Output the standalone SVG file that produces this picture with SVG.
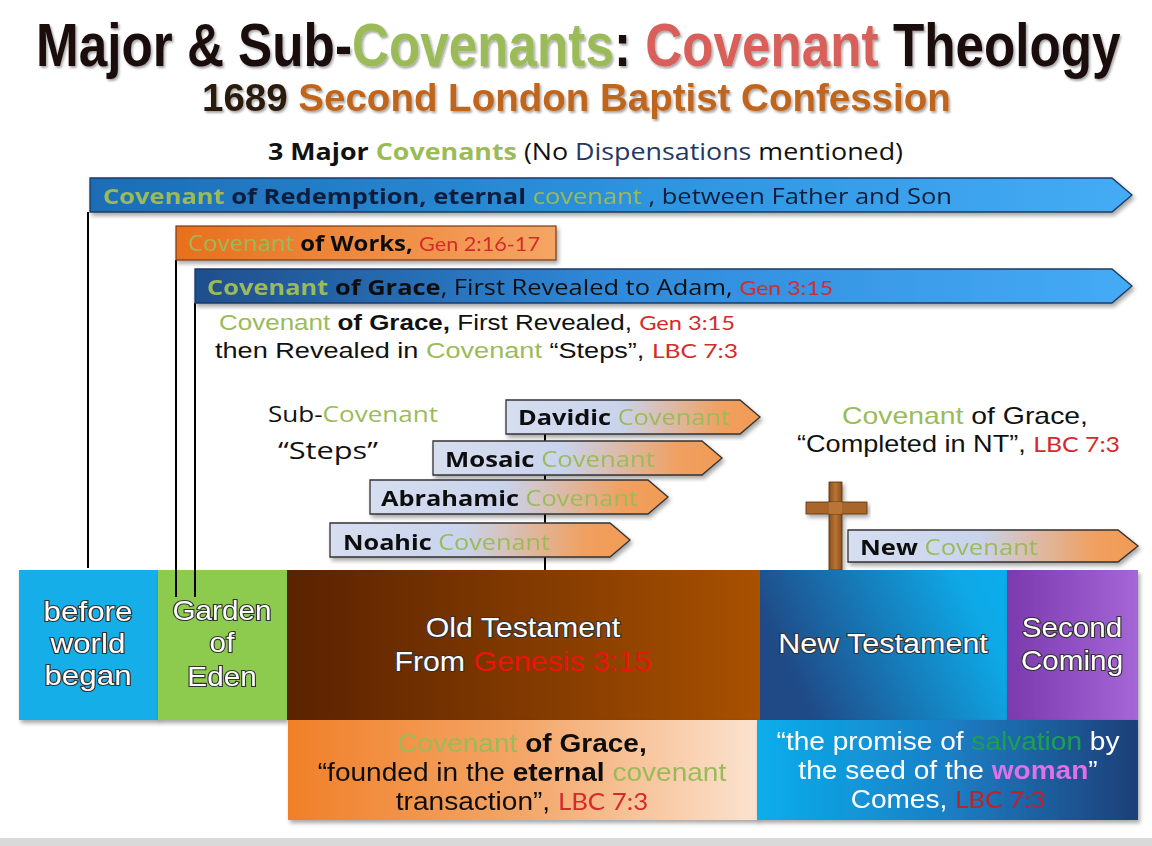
<svg xmlns="http://www.w3.org/2000/svg" width="1152" height="846" viewBox="0 0 1152 846">
<defs>
<style>
text{font-family:"Open Sans","Noto Sans",sans-serif;}
.t{font-family:"Liberation Sans",Arial,sans-serif;font-weight:700;}
.ls{font-family:"Liberation Sans",Arial,sans-serif;}
.g{fill:#9BBB59;}
.r{fill:#D42A2A;font-family:Lato,"Open Sans",sans-serif;}
.k{fill:#111;}
.b{font-weight:700;}
.lbl{font-family:"Liberation Sans",Arial,sans-serif;font-size:28px;fill:#fff;stroke:#333;stroke-width:2.2px;paint-order:stroke;text-anchor:middle;}
.sub{stroke:#333;stroke-width:1.3;fill:url(#subG);}
.line{stroke:#000;stroke-width:2;fill:none;}
</style>
<linearGradient id="redG" x1="0" x2="1" y1="0" y2="0"><stop offset="0" stop-color="#1C6DB5"/><stop offset="0.55" stop-color="#2E95E0"/><stop offset="1" stop-color="#45ABF5"/></linearGradient>
<linearGradient id="graceG" x1="0" x2="1" y1="0" y2="0"><stop offset="0" stop-color="#1F4E8C"/><stop offset="0.45" stop-color="#2F8ADB"/><stop offset="1" stop-color="#45ABF5"/></linearGradient>
<linearGradient id="worksG" x1="0" x2="1" y1="0" y2="0"><stop offset="0" stop-color="#E8701C"/><stop offset="1" stop-color="#F5A564"/></linearGradient>
<linearGradient id="subG" x1="0" x2="1" y1="0" y2="0"><stop offset="0" stop-color="#D6DEF0"/><stop offset="0.45" stop-color="#C9D3EC"/><stop offset="0.85" stop-color="#F0A060"/><stop offset="1" stop-color="#F29A55"/></linearGradient>
<linearGradient id="otG" x1="0" x2="1" y1="0" y2="0"><stop offset="0" stop-color="#5A2200"/><stop offset="1" stop-color="#A85100"/></linearGradient>
<linearGradient id="ntG" x1="0" x2="1" y1="0.3" y2="0"><stop offset="0" stop-color="#1F4A86"/><stop offset="0.8" stop-color="#0EA8E6"/><stop offset="1" stop-color="#0AAEEC"/></linearGradient>
<linearGradient id="scG" x1="0" x2="1" y1="0" y2="0"><stop offset="0" stop-color="#7A3AAE"/><stop offset="1" stop-color="#A566D6"/></linearGradient>
<linearGradient id="obG" x1="0" x2="1" y1="0" y2="0"><stop offset="0" stop-color="#F08028"/><stop offset="0.5" stop-color="#F4A668"/><stop offset="1" stop-color="#FBE3D0"/></linearGradient>
<linearGradient id="bbG" x1="0" x2="1" y1="0" y2="0"><stop offset="0" stop-color="#0AAEEC"/><stop offset="0.5" stop-color="#1A7FC6"/><stop offset="1" stop-color="#1F3F78"/></linearGradient>
<linearGradient id="crossG" x1="0" x2="1" y1="0" y2="0"><stop offset="0" stop-color="#8A4F1C"/><stop offset="0.5" stop-color="#B87534"/><stop offset="1" stop-color="#8A4F1C"/></linearGradient>
<filter id="sh" x="-5%" y="-10%" width="110%" height="130%"><feDropShadow dx="2" dy="3" stdDeviation="2" flood-color="#000" flood-opacity="0.35"/></filter>
<filter id="tsh" x="-2%" y="-10%" width="104%" height="130%"><feDropShadow dx="1.5" dy="2" stdDeviation="1" flood-color="#000" flood-opacity="0.35"/></filter>
</defs>
<rect width="1152" height="846" fill="#fff"/>
<rect x="0" y="838" width="1152" height="8" fill="#d9d9d9"/>

<g id="title" filter="url(#tsh)">
<text class="t" font-size="61" transform="translate(36,66) scale(0.84,1)"><tspan fill="#1a1010">Major &amp; Sub-</tspan><tspan fill="#9BBB59">Covenants</tspan><tspan fill="#1a1010">: </tspan><tspan fill="#D9605A">Covenant</tspan><tspan fill="#1a1010"> Theology</tspan></text>
<text class="t" font-size="38.5" x="202" y="111"><tspan fill="#2a1a10">1689 </tspan><tspan fill="#C0651F">Second London Baptist Confession</tspan></text>
</g>
<text x="268" y="160" font-size="23" textLength="635" lengthAdjust="spacingAndGlyphs"><tspan class="b k">3 Major </tspan><tspan class="b g">Covenants</tspan><tspan class="k"> (No </tspan><tspan fill="#1F3864">Dispensations</tspan><tspan class="k"> mentioned)</tspan></text>

<g id="connectors">
<line class="line" x1="88" y1="212" x2="88" y2="568"/>
<line class="line" x1="176" y1="260" x2="176" y2="597"/>
<line class="line" x1="195" y1="303" x2="195" y2="597"/>
<line class="line" x1="545" y1="434" x2="545" y2="570"/>
</g>

<g id="redemption" filter="url(#sh)">
<polygon points="90,178 1112,178 1132,195 1112,212 90,212" fill="url(#redG)" stroke="#1F3864" stroke-width="1.3"/>
<text x="103" y="204" font-size="22" textLength="849" lengthAdjust="spacingAndGlyphs"><tspan class="b g">Covenant</tspan><tspan class="b" fill="#0C1E3C"> of Redemption, eternal </tspan><tspan class="g">covenant</tspan><tspan fill="#0C1E3C"> , between Father and Son</tspan></text>
</g>

<g id="works" filter="url(#sh)">
<rect x="176" y="226" width="380" height="34" fill="url(#worksG)" stroke="#7a3a10" stroke-width="1.2"/>
<text x="188" y="251" font-size="21" textLength="352" lengthAdjust="spacingAndGlyphs"><tspan class="g">Covenant</tspan><tspan class="b k"> of Works, </tspan><tspan class="r" font-size="19">Gen 2:16-17</tspan></text>
</g>

<g id="grace" filter="url(#sh)">
<polygon points="195,269 1112,269 1132,286 1112,303 195,303" fill="url(#graceG)" stroke="#1F3864" stroke-width="1.3"/>
<text x="207" y="295" font-size="22" textLength="626" lengthAdjust="spacingAndGlyphs"><tspan class="b g">Covenant</tspan><tspan class="b k"> of Grace</tspan><tspan class="k">, First Revealed to Adam, </tspan><tspan class="r" font-size="20">Gen 3:15</tspan></text>
</g>

<g id="grace-note">
<text class="ls" x="219" y="330" font-size="22" textLength="516" lengthAdjust="spacingAndGlyphs"><tspan class="g">Covenant</tspan><tspan class="b k"> of Grace,</tspan><tspan class="k"> First Revealed, </tspan><tspan class="r" font-size="20">Gen 3:15</tspan></text>
<text class="ls" x="215" y="358" font-size="22" textLength="523" lengthAdjust="spacingAndGlyphs"><tspan class="k">then Revealed in </tspan><tspan class="g">Covenant</tspan><tspan class="k"> “Steps”, </tspan><tspan class="r" font-size="20">LBC 7:3</tspan></text>
</g>

<g id="steps-label">
<text x="268" y="422" font-size="22" textLength="170" lengthAdjust="spacingAndGlyphs"><tspan class="k">Sub-</tspan><tspan class="g">Covenant</tspan></text>
<text x="278" y="459" font-size="23" class="k" textLength="100" lengthAdjust="spacingAndGlyphs">“Steps”</text>
</g>

<g id="davidic" filter="url(#sh)">
<polygon class="sub" points="506,400 740,400 760,417 740,434 506,434"/>
<text x="518" y="425" font-size="22" textLength="212" lengthAdjust="spacingAndGlyphs"><tspan class="b k">Davidic </tspan><tspan class="g">Covenant</tspan></text>
</g>
<g id="mosaic" filter="url(#sh)">
<polygon class="sub" points="433,441 702,441 722,458 702,475 433,475"/>
<text x="445" y="467" font-size="22" textLength="210" lengthAdjust="spacingAndGlyphs"><tspan class="b k">Mosaic </tspan><tspan class="g">Covenant</tspan></text>
</g>
<g id="abrahamic" filter="url(#sh)">
<polygon class="sub" points="370,480 648,480 668,497 648,514 370,514"/>
<text x="381" y="506" font-size="22" textLength="257" lengthAdjust="spacingAndGlyphs"><tspan class="b k">Abrahamic </tspan><tspan class="g">Covenant</tspan></text>
</g>
<g id="noahic" filter="url(#sh)">
<polygon class="sub" points="330,523 610,523 630,540 610,557 330,557"/>
<text x="343" y="550" font-size="22" textLength="207" lengthAdjust="spacingAndGlyphs"><tspan class="b k">Noahic </tspan><tspan class="g">Covenant</tspan></text>
</g>

<g id="grace-completed">
<text class="ls" x="842" y="424" font-size="24" textLength="246" lengthAdjust="spacingAndGlyphs"><tspan class="g">Covenant</tspan><tspan class="k"> of Grace,</tspan></text>
<text class="ls" x="797" y="452" font-size="24" textLength="323" lengthAdjust="spacingAndGlyphs"><tspan class="k">“Completed in NT”, </tspan><tspan class="r" font-size="22">LBC 7:3</tspan></text>
</g>

<g id="cross" filter="url(#sh)">
<rect x="829" y="482" width="13" height="88" fill="url(#crossG)" stroke="#5a300c" stroke-width="0.8"/>
<rect x="806" y="502" width="61" height="12" fill="#A8662A" stroke="#5a300c" stroke-width="0.8"/>
<rect x="829" y="502" width="13" height="12" fill="#B87534"/>
</g>

<g id="new-covenant" filter="url(#sh)">
<polygon class="sub" points="848,530 1118,530 1138,546 1118,562 848,562"/>
<text x="860" y="555" font-size="22" textLength="178" lengthAdjust="spacingAndGlyphs"><tspan class="b k">New </tspan><tspan class="g">Covenant</tspan></text>
</g>

<g id="before-world" filter="url(#sh)">
<rect x="19" y="570" width="140" height="150" fill="#12AEE8"/>
<g transform="translate(88,0) scale(1.12,1)">
<text class="lbl" x="0" y="621">before</text>
<text class="lbl" x="0" y="653">world</text>
<text class="lbl" x="0" y="685">began</text>
</g>
</g>
<g id="garden" filter="url(#sh)">
<rect x="158" y="570" width="129" height="150" fill="#8DCB4F"/>
<g transform="translate(222,0) scale(1.06,1)">
<text class="lbl" x="0" y="620">Garden</text>
<text class="lbl" x="0" y="652">of</text>
<text class="lbl" x="0" y="686">Eden</text>
</g>
</g>
<line class="line" x1="176" y1="570" x2="176" y2="597"/>
<line class="line" x1="195" y1="570" x2="195" y2="597"/>

<g id="old-testament">
<rect x="287" y="570" width="474" height="150" fill="url(#otG)"/>
<g transform="translate(523,0) scale(1.08,1)">
<text class="lbl" x="0" y="637">Old Testament</text>
<text class="lbl" x="0" y="671">From <tspan fill="#E8140E" stroke="none">Genesis 3:15</tspan></text>
</g>
</g>
<g id="new-testament">
<rect x="760" y="570" width="248" height="150" fill="url(#ntG)"/>
<g transform="translate(883,0) scale(1.09,1)">
<text class="lbl" x="0" y="653">New Testament</text>
</g>
</g>
<g id="second-coming" filter="url(#sh)">
<rect x="1007" y="570" width="131" height="150" fill="url(#scG)"/>
<g transform="translate(1072,0) scale(1.06,1)">
<text class="lbl" x="0" y="637">Second</text>
<text class="lbl" x="0" y="670">Coming</text>
</g>
</g>

<g id="grace-founded" filter="url(#sh)">
<rect x="288" y="720" width="470" height="100" fill="url(#obG)"/>
<g transform="translate(522,0) scale(1.1,1)">
<text class="ls" x="0" y="752" font-size="25.5" text-anchor="middle"><tspan class="g">Covenant</tspan><tspan class="b k"> of Grace,</tspan></text>
<text class="ls k" x="0" y="781" font-size="25.5" text-anchor="middle">“founded in the <tspan class="b">eternal</tspan> <tspan class="g">covenant</tspan></text>
<text class="ls k" x="0" y="810" font-size="25.5" text-anchor="middle">transaction”, <tspan class="r" font-size="23.5">LBC 7:3</tspan></text>
</g>
</g>
<g id="promise" filter="url(#sh)">
<rect x="757" y="720" width="381" height="100" fill="url(#bbG)"/>
<g transform="translate(948,0) scale(1.1,1)">
<text class="ls" x="0" y="750" font-size="25.5" text-anchor="middle" fill="#fff">“the promise of <tspan fill="#1FA050">salvation</tspan> by</text>
<text class="ls" x="0" y="779" font-size="25.5" text-anchor="middle" fill="#fff">the seed of the <tspan fill="#E070E8" font-weight="700">woman</tspan>”</text>
<text class="ls" x="0" y="808" font-size="25.5" text-anchor="middle" fill="#fff">Comes, <tspan fill="#C0202A" font-family="Lato,sans-serif" font-size="23.5">LBC 7:3</tspan></text>
</g>
</g>
</svg>
